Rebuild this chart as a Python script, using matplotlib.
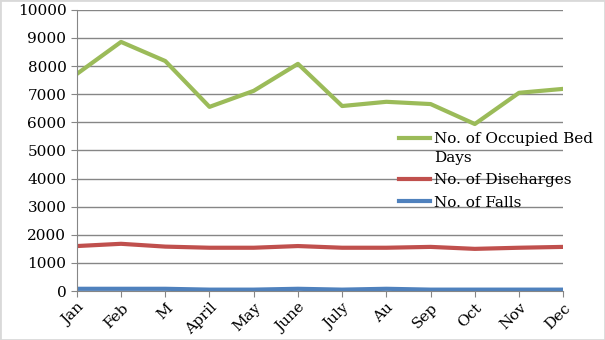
import matplotlib.pyplot as plt
from matplotlib.patches import Rectangle

months = ['Jan', 'Feb', 'M', 'April', 'May', 'June', 'July', 'Au', 'Sep', 'Oct', 'Nov', 'Dec']
bed_days = [7720, 8860, 8180, 6550, 7120, 8080, 6580, 6730, 6650, 5940, 7050, 7190]
discharges = [1600, 1680, 1580, 1540, 1540, 1600, 1540, 1540, 1570, 1500, 1540, 1570]
falls = [80, 80, 80, 50, 50, 80, 50, 80, 50, 50, 50, 50]

plt.rcParams['font.family'] = 'DejaVu Serif'

fig = plt.figure(figsize=(6.05, 3.4), dpi=100)
ax = fig.add_axes([0.127, 0.144, 0.804, 0.827])

x = range(len(months))
ax.plot(x, bed_days, color='#9bbb59', lw=3.0, label='No. of Occupied Bed\nDays')
ax.plot(x, discharges, color='#c0504d', lw=3.0, label='No. of Discharges')
ax.plot(x, falls, color='#4f81bd', lw=3.0, label='No. of Falls')

ax.set_xlim(0, len(months) - 1)
ax.set_ylim(0, 10000)
ax.set_yticks(range(0, 10001, 1000))
ax.set_xticks(list(x))
ax.set_xticklabels(months, rotation=45, ha='right', rotation_mode='anchor')
ax.tick_params(axis='both', labelsize=11, color='#868686', length=4)
ax.tick_params(axis='x', pad=3)
ax.yaxis.grid(True, color='#868686', lw=1)
ax.set_axisbelow(True)
for side in ['top', 'right']:
    ax.spines[side].set_visible(False)
for side in ['left', 'bottom']:
    ax.spines[side].set_color('#868686')

leg = ax.legend(loc='upper left', bbox_to_anchor=(0.66, 0.612), bbox_transform=fig.transFigure,
                frameon=False, fontsize=11, handlelength=2.0, handletextpad=0.25,
                labelspacing=0.55, borderpad=0, borderaxespad=0)
leg.get_texts()[0].set_linespacing(1.45)
# put the first handle level with the first line of its two-line label
first = leg.get_lines()[0]
first.set_ydata([v + 7.9 for v in first.get_ydata()])

fig.patches.append(Rectangle((0, 0), 1, 1, transform=fig.transFigure, fill=False,
                             edgecolor='#d9d9d9', lw=2))
fig.savefig('out.png', dpi=100)
